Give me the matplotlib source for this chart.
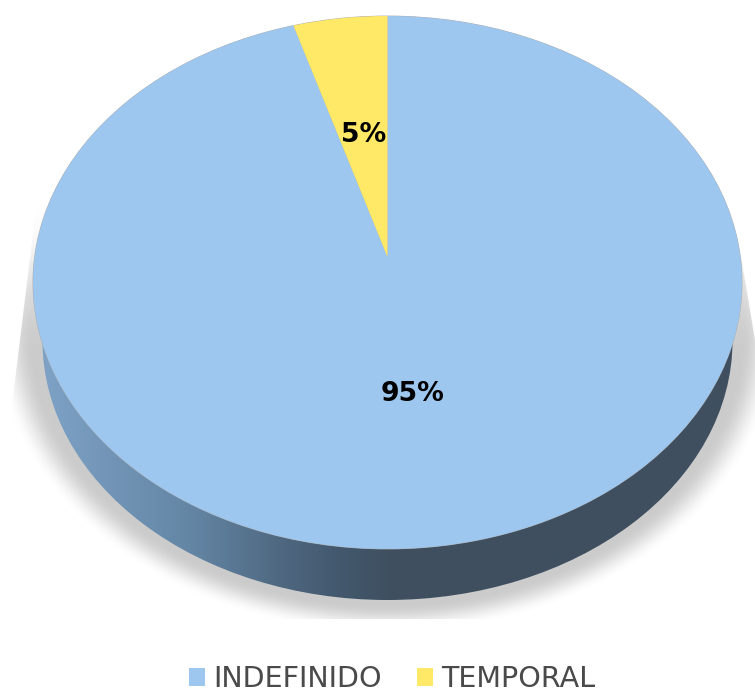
import numpy as np
import matplotlib
matplotlib.use("Agg")
import matplotlib.pyplot as plt
from matplotlib.colors import LinearSegmentedColormap
from matplotlib.patches import Ellipse, Polygon
from matplotlib.transforms import Transform

categories = ["INDEFINIDO", "TEMPORAL"]
shares = [95.3, 4.7]
pie_colors = ["#9DC7EF", "#FFE966"]

W, H = 755, 693
CX, CY, A, B = 387.5, 282.5, 354.5, 266.5   # top face
APEX = (CY - 257) / B                       # perspective shift of the pie centre

fig = plt.figure(figsize=(W / 100, H / 100), dpi=100, facecolor="white")

# background layer in pixel coordinates: shadow and side wall
bg = fig.add_axes([0, 0, 1, 1])
bg.set_xlim(0, W)
bg.set_ylim(H, 0)
bg.axis("off")

yy, xx = np.mgrid[0:H, 0:W] + 0.5
rho = np.sqrt(((xx - 387) / 392) ** 2 + ((yy - 330) / 303) ** 2)
t = np.clip((1 - rho) / 0.095, 0, 1)
fade = np.clip((yy - 185) / 170, 0, 1)
alpha = t * t * (3 - 2 * t) * fade * fade * (3 - 2 * fade)
rgba = np.zeros((H, W, 4))
rgba[..., :3] = 0xCB / 255
rgba[..., 3] = alpha
shadow = bg.imshow(rgba, extent=(0, W, H, 0), aspect="auto", zorder=1, interpolation="bilinear")
clip = Polygon([(37, 200), (9, 430), (9, 619), (755, 619), (755, 340), (740, 250)],
               closed=True, transform=bg.transData, fc="none", ec="none")
bg.add_patch(clip)
shadow.set_clip_path(clip)

wall_cmap = LinearSegmentedColormap.from_list(
    "wall",
    [(0.0, "#7FA4C8"), (0.10, "#7396B8"), (0.22, "#6486A5"), (0.34, "#506A83"),
     (0.42, "#445A70"), (0.50, "#3F5061"), (1.0, "#3F4F60")],
)
wall = bg.imshow(np.linspace(0, 1, 512)[None, :], cmap=wall_cmap, vmin=0, vmax=1,
                 extent=(33, 742, 600, 82), aspect="auto", zorder=2)
wall_clip = Ellipse((387.5, 341), 690, 518, transform=bg.transData, fc="none", ec="none")
bg.add_patch(wall_clip)
wall.set_clip_path(wall_clip)
bg.set_xlim(0, W)
bg.set_ylim(H, 0)
bg.add_patch(Ellipse((CX, CY), 2 * A + 0.8, 2 * B + 0.8, fc="#ABABAB", ec="none", zorder=3))


class Perspective(Transform):
    input_dims = output_dims = 2
    is_separable = False

    def __init__(self, c):
        super().__init__()
        self.c = c

    def transform_non_affine(self, values):
        v = np.asarray(values, float)
        d = 1 + self.c * v[:, 1]
        return np.column_stack((v[:, 0] * np.sqrt(1 - self.c ** 2) / d,
                                (v[:, 1] + self.c) / d))


# pie layer: data unit = one radius on each axis, squashed into the ellipse
ax = fig.add_axes([0, 0, 1, 1], facecolor="none")
wedges, texts, autotexts = ax.pie(
    shares, colors=pie_colors, startangle=90, counterclock=False,
    autopct="%.0f%%", radius=1,
    wedgeprops=dict(transform=Perspective(APEX) + ax.transData, linewidth=0, zorder=4),
    textprops=dict(color="black", fontsize=19.2, fontweight="bold", family="DejaVu Sans", zorder=5),
)
ax.set_aspect("auto")
ax.set_xlim(-CX / A, (W - CX) / A)
ax.set_ylim((CY - H) / B, CY / B)
autotexts[0].set_position(((412.5 - CX) / A, (CY - 394) / B))
autotexts[1].set_position(((363.5 - CX) / A, (CY - 135.5) / B))
for tx in autotexts:
    tx.set_ha("center")
    tx.set_va("center")

leg = ax.legend(
    wedges, categories, loc="lower left", bbox_to_anchor=(183 / W, -6 / H), frameon=False, ncol=2,
    prop=dict(family="DejaVu Sans", size=20.6), labelcolor="#4A4A4A",
    handlelength=0.56, handleheight=0.56, handletextpad=0.28, columnspacing=1.26,
    borderpad=0.2, borderaxespad=0,
)

fig.savefig("out.png", dpi=100, facecolor="white")
